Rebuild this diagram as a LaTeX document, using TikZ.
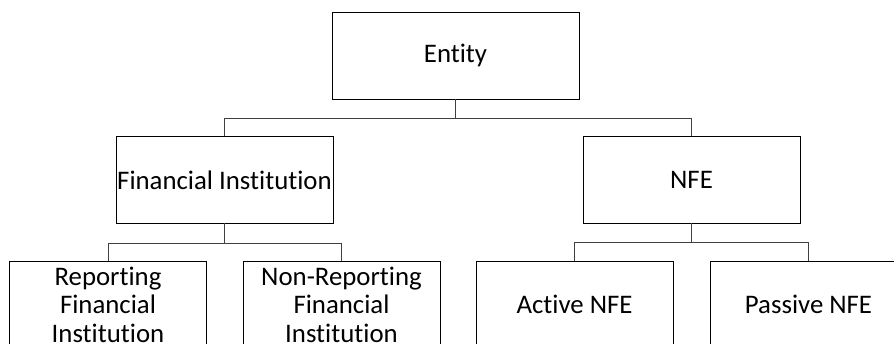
\documentclass[tikz,border=0pt]{standalone}
\usepackage{fontspec}
\setmainfont[Ligatures={NoCommon}]{Carlito}
\begin{document}
\begin{tikzpicture}[x=1pt,y=-1pt,
  box/.style={draw=black,line width=0.9pt,inner sep=0pt,outer sep=0pt,
    font=\fontsize{26.8}{28.5}\selectfont,align=center},
  big/.style={box,minimum width=217pt,minimum height=87pt},
  small/.style={box,minimum width=197pt,minimum height=87pt},
  conn/.style={draw=black!75,line width=0.9pt}]
\useasboundingbox (0,0) rectangle (894,344);
\clip (0,0) rectangle (894,344);
\node[box,minimum width=247pt,minimum height=87pt] (entity) at (455.5,55.5) {Entity};
\node[big] (fi) at (224.5,180) {Financial Institution};
\node[big] (nfe) at (691.5,180) {NFE};
\node[small] (rfi) at (108,304.5) {Reporting\\Financial\\Institution};
\node[small] (nrfi) at (341.5,304.5) {Non-Reporting\\Financial\\Institution};
\node[small] (act) at (574.5,304.5) {Active NFE};
\node[small] (pas) at (808.5,304.5) {Passive NFE};
\draw[conn] (entity.south) -- ++(0,19) -| (fi.north);
\draw[conn] (entity.south) -- ++(0,19) -| (nfe.north);
\draw[conn] (fi.south) -- ++(0,20) -| (rfi.north);
\draw[conn] (fi.south) -- ++(0,20) -| (nrfi.north);
\draw[conn] (nfe.south) -- ++(0,19) -| (act.north);
\draw[conn] (nfe.south) -- ++(0,19) -| (pas.north);
\end{tikzpicture}
\end{document}
